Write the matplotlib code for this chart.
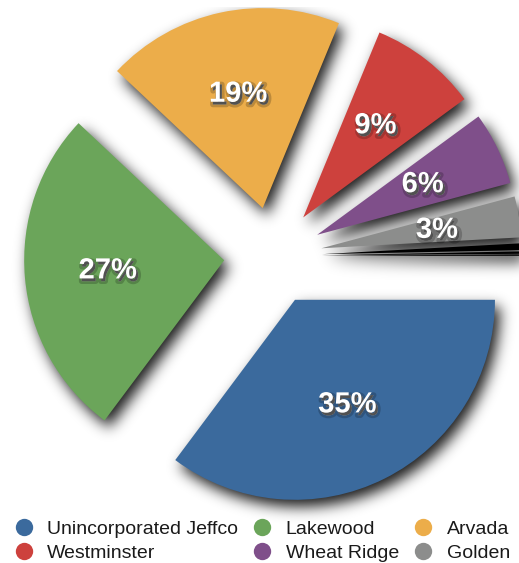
import numpy as np
import matplotlib.pyplot as plt
import matplotlib.patheffects as pe
from matplotlib.lines import Line2D

plt.rcParams['font.family'] = ['Liberation Sans', 'DejaVu Sans']

cities = ['Unincorporated Jeffco', 'Lakewood', 'Arvada', 'Westminster', 'Wheat Ridge', 'Golden']
shares = [35.2, 26.8, 19.2, 8.7, 5.9, 3.3]
others = [0.55, 0.2, 0.12]  # tiny unlabeled slices, drawn black
colors = ['#3b6a9d', '#6ba55a', '#ecad4a', '#cd413d', '#7f4f8a', '#8c8d8c']

W, H = 519, 563
fig = plt.figure(figsize=(W / 100, H / 100), dpi=100)
ax = fig.add_axes([0, 0, 1, 1])

values = shares + others
slice_colors = colors + ['black'] * len(others)
wedges, texts, autotexts = ax.pie(
    values, colors=slice_colors,
    explode=[0.245] * len(values), startangle=0, counterclock=False,
    autopct=lambda p: '%d%%' % round(p) if p > 2 else '',
    pctdistance=0.585, wedgeprops=dict(linewidth=0),
    textprops=dict(color='white', fontsize=21, fontweight='bold'))

# pie centre sits at (273, 256) px from top-left, radius 200 px
ax.set_aspect('auto')
ax.set_xlim(-273 / 200, (W - 273) / 200)
ax.set_ylim(-(H - 256) / 200, 256 / 200)
ax.axis('off')

# soft drop shadow: render the slices as a silhouette, blur it, put it underneath
for w in wedges:
    w.set_facecolor('black')
for t in autotexts:
    t.set_visible(False)
fig.canvas.draw()
sil = 1 - np.asarray(fig.canvas.buffer_rgba())[..., 0] / 255.0

sig = 7
xk = np.arange(-3 * sig, 3 * sig + 1)
kern = np.exp(-xk ** 2 / (2 * sig ** 2))
kern /= kern.sum()
blur = np.apply_along_axis(lambda r: np.convolve(r, kern, mode='same'), 1, sil)
blur = np.apply_along_axis(lambda c: np.convolve(c, kern, mode='same'), 0, blur)
dx, dy = 5, 7
shadow = np.zeros_like(blur)
shadow[dy:, dx:] = blur[:-dy, :-dx]
rgba = np.zeros(shadow.shape + (4,))
rgba[..., 3] = np.clip(shadow * 0.9, 0, 1)
fig.figimage(rgba, 0, 0, origin='upper', zorder=-1)

for w, c in zip(wedges, slice_colors):
    w.set_facecolor(c)
for t in autotexts:
    t.set_visible(True)
    t.set_path_effects([
        pe.Stroke(linewidth=4, foreground=(0, 0, 0, 0.2), offset=(1.5, -2)),
        pe.SimplePatchShadow(offset=(1.5, -2), shadow_rgbFace='black', alpha=0.6),
        pe.Normal()])

handles = [Line2D([], [], marker='o', linestyle='none', markersize=12.5,
                  markerfacecolor=c, markeredgewidth=0) for c in colors]
order = [0, 3, 1, 4, 2, 5]
fig.legend([handles[i] for i in order], [cities[i] for i in order], ncol=3,
           loc='upper left', bbox_to_anchor=(14 / W, 1 - 520 / H), frameon=False,
           fontsize=14, handlelength=1.0, handletextpad=0.7, columnspacing=0.75,
           labelspacing=0.33, borderpad=0, borderaxespad=0, labelcolor='#1a1a1a')

fig.savefig('out.png', dpi=100)
